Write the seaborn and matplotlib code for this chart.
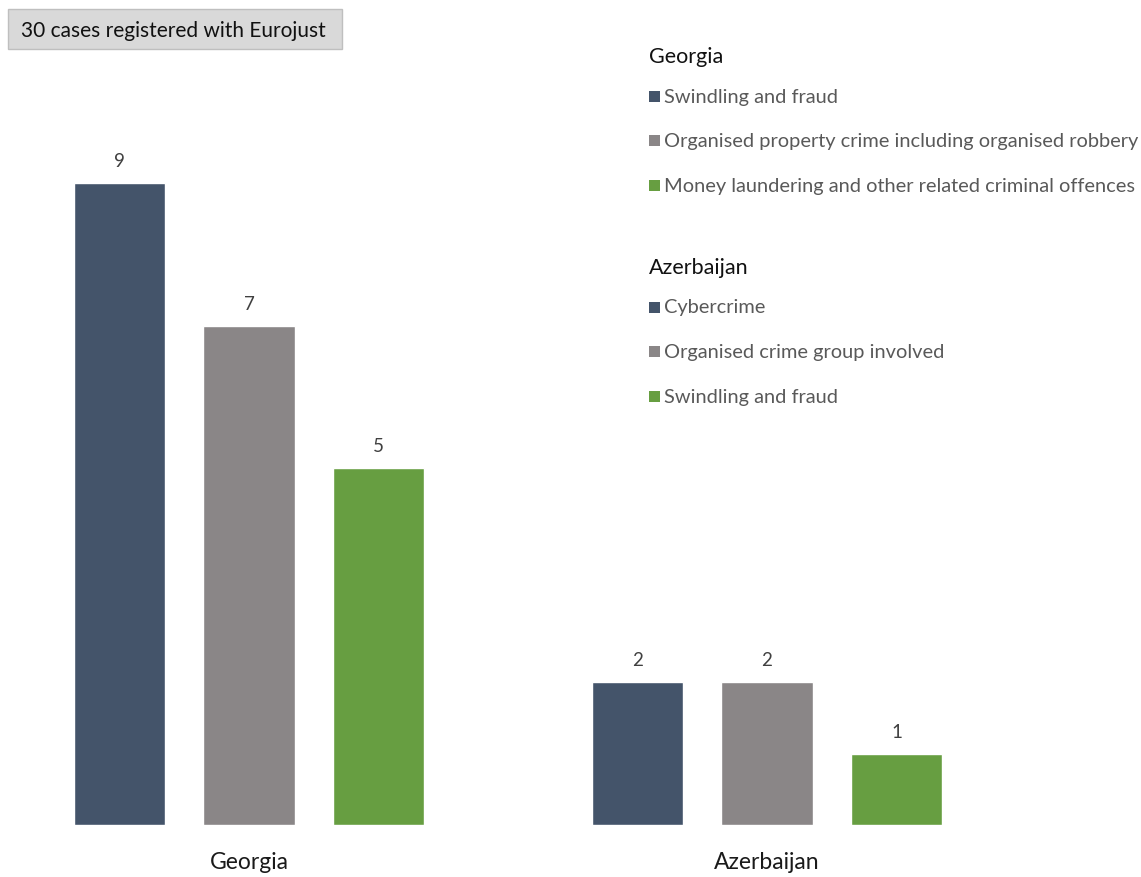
import matplotlib
matplotlib.use("Agg")
import matplotlib.pyplot as plt
from matplotlib.patches import Rectangle
import seaborn as sns
import pandas as pd

countries = ["Georgia", "Azerbaijan"]
georgia_crimes = ["Swindling and fraud",
                  "Organised property crime including organised robbery",
                  "Money laundering and other related criminal offences"]
georgia_values = [9, 7, 5]
azerbaijan_crimes = ["Cybercrime", "Organised crime group involved", "Swindling and fraud"]
azerbaijan_values = [2, 2, 1]
title_text = "30 cases registered with Eurojust"
colors = ["#44546A", "#8A8687", "#679E41"]

rows = []
for c, vals in zip(countries, [georgia_values, azerbaijan_values]):
    for i, v in enumerate(vals):
        rows.append({"country": c, "rank": str(i), "value": v})
df = pd.DataFrame(rows)

sns.set_theme(style="white")
plt.rcParams["font.family"] = ["Lato", "DejaVu Sans"]

W, H = 1141, 878
fig = plt.figure(figsize=(W / 100, H / 100), dpi=100)
ax = fig.add_axes([0, 52 / H, 1, 826 / H])
sns.barplot(data=df, x="country", y="value", hue="rank", order=countries,
            hue_order=["0", "1", "2"], palette=colors, width=0.75, gap=0.29,
            saturation=1, legend=False, ax=ax, errorbar=None)
ax.set_xlim(-249 / 518, (W - 249) / 518)
ax.set_ylim(0, 826 / 71.33)
for cont in ax.containers:
    ax.bar_label(cont, padding=10, fontsize=13.5, color="#404040")
for s in ax.spines.values():
    s.set_visible(False)
ax.set_yticks([])
ax.set_xlabel("")
ax.set_ylabel("")
ax.tick_params(axis="x", length=0, pad=19, labelsize=16.5, labelcolor="#1a1a1a")

# title box
fig.patches.append(Rectangle((8 / W, 1 - 50 / H), 334 / W, 40 / H, transform=fig.transFigure,
                             facecolor="#D9D9D9", edgecolor="#BFBFBF", lw=1))
fig.text(21 / W, 1 - 31 / H, title_text, fontsize=15, color="#111111", va="center", ha="left")

# legend blocks
def block(title, items, y0):
    fig.text(649 / W, 1 - y0 / H, title, fontsize=15.5, color="#111111", va="center", ha="left")
    for i, (lab, col) in enumerate(zip(items, colors)):
        y = y0 + 40 + i * 44.7
        fig.patches.append(Rectangle((649 / W, 1 - (y + 5.5) / H), 11 / W, 11 / H,
                                     transform=fig.transFigure, facecolor=col, edgecolor="none"))
        fig.text(664 / W, 1 - y / H, lab, fontsize=14.4, color="#595959", va="center", ha="left")

block("Georgia", georgia_crimes, 57)
block("Azerbaijan", azerbaijan_crimes, 268)

fig.savefig("out.png", dpi=100)
